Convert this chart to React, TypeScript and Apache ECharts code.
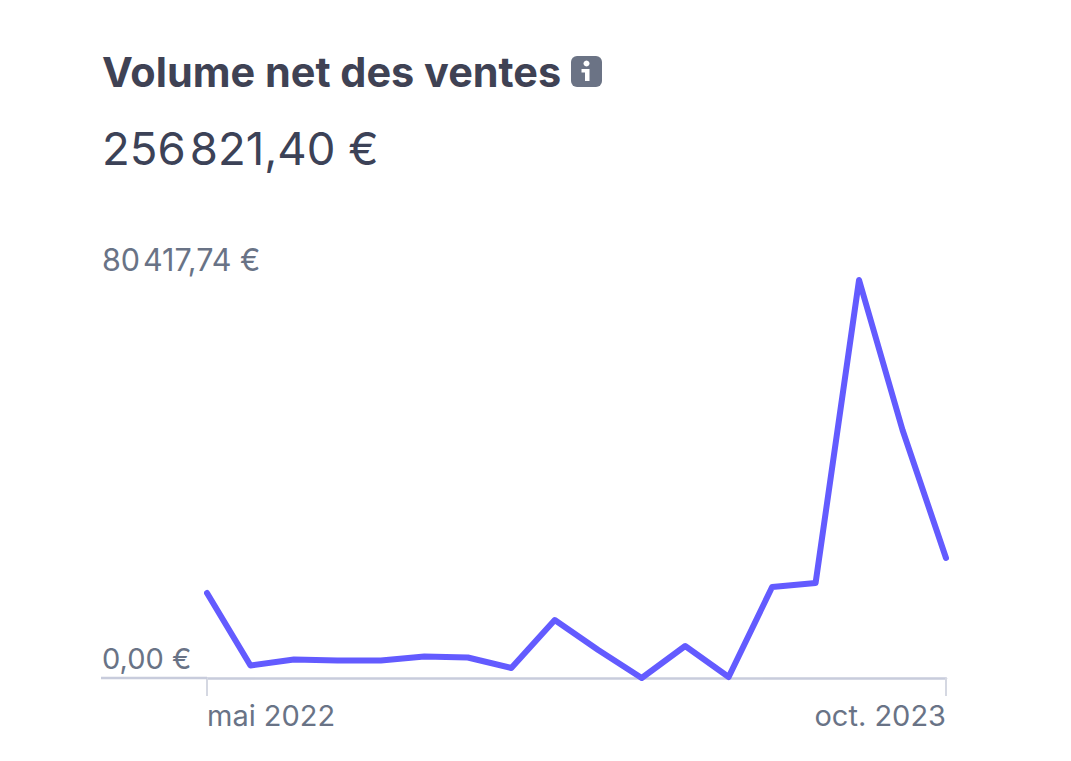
import React, { useEffect, useRef } from "react";
import * as echarts from "echarts";

const titleText = "Volume net des ventes";
const totalText = "256\u200A821,40 €";
const months = ["mai 2022","juin 2022","juil. 2022","août 2022","sept. 2022","oct. 2022","nov. 2022","déc. 2022","janv. 2023","févr. 2023","mars 2023","avr. 2023","mai 2023","juin 2023","juil. 2023","août 2023","sept. 2023","oct. 2023"];
const volumes = [17170,2526,3738,3536,3536,4344,4142,2020,11720,5660,0,6470,200,18390,19190,80417.74,50110,24250];
const yTicks = [0, 80417.74];
const yTickLabels = ["{low|0,00 €}", "{high|80\u200A417,74 €}"];

const FONT = "Inter, 'Noto Sans', sans-serif";

export default function App() {
  const ref = useRef<HTMLDivElement>(null);
  useEffect(() => {
    const chart = echarts.init(ref.current!, null, { renderer: "svg" });
    const ends = (i: number) => i === 0 || i === months.length - 1;
    chart.setOption({
      animation: false,
      backgroundColor: "#ffffff",
      title: [
        { text: titleText, left: 97, top: 46, textStyle: { fontFamily: FONT, fontSize: 41.4, fontWeight: 700, color: "#3f4254" } },
        { text: totalText, left: 97, top: 120, textStyle: { fontFamily: FONT, fontSize: 45.5, fontWeight: 400, color: "#3c4257" } },
      ],
      grid: { left: 207, right: 125, top: 280, bottom: 83 },
      xAxis: {
        type: "category",
        data: months,
        boundaryGap: false,
        axisLine: { show: true, lineStyle: { color: "#c8ccdc", width: 2.5 } },
        axisTick: { show: true, interval: (i: number) => ends(i), length: 18, lineStyle: { color: "#d5d8e2", width: 2 } },
        axisLabel: {
          show: true,
          interval: (i: number) => ends(i),
          alignMinLabel: "left",
          alignMaxLabel: "right",
          fontFamily: FONT,
          fontSize: 29,
          color: "#697386",
          margin: 23,
        },
        splitLine: { show: false },
      },
      yAxis: {
        type: "value",
        min: 0,
        max: yTicks[1],
        axisLine: { show: false },
        axisTick: { show: false },
        splitLine: { show: false },
        axisLabel: {
          customValues: yTicks,
          formatter: (v: number) => yTickLabels[yTicks.indexOf(v)],
          align: "left",
          verticalAlign: "bottom",
          margin: 105,
          padding: [0, 0, 5, 0],
          color: "#697386",
          rich: {
            low: { fontFamily: FONT, fontSize: 29, color: "#697386" },
            high: { fontFamily: FONT, fontSize: 30.5, color: "#697386" },
          },
        },
      },
      series: [
        {
          type: "line",
          data: volumes,
          showSymbol: false,
          symbol: "none",
          clip: false,
          lineStyle: { color: "#635bff", width: 6, cap: "round", join: "round" },
        },
      ],
      graphic: [
        { type: "line", z: 1, shape: { x1: 101, y1: 678, x2: 207, y2: 678 }, style: { stroke: "#c8ccdc", lineWidth: 2.5 } },
        { type: "rect", shape: { x: 571, y: 56, width: 31, height: 31, r: 6 }, style: { fill: "#6b7385" } },
        { type: "circle", shape: { cx: 586.5, cy: 63.5, r: 3 }, style: { fill: "#ffffff" } },
        { type: "polygon", shape: { points: [[581.5, 69], [589.5, 69], [589.5, 81], [585, 81], [585, 72.5], [581.5, 72.5]] }, style: { fill: "#ffffff" } },
      ],
    });
    return () => chart.dispose();
  }, []);
  return <div ref={ref} style={{ position: "absolute", left: 0, top: 0, width: 1071, height: 761 }} />;
}
